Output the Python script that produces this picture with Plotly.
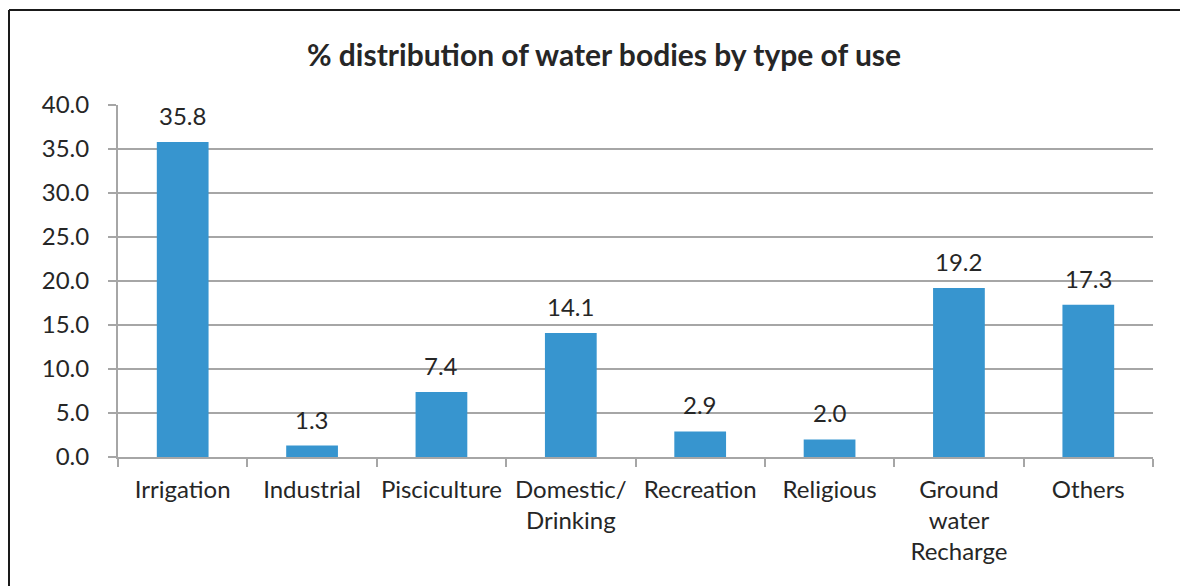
import plotly.graph_objects as go

categories = ["Irrigation", "Industrial", "Pisciculture", "Domestic/<br>Drinking",
              "Recreation", "Religious", "Ground<br>water<br>Recharge", "Others"]
values = [35.8, 1.3, 7.4, 14.1, 2.9, 2.0, 19.2, 17.3]
y_ticks = [0, 5, 10, 15, 20, 25, 30, 35, 40]
title = "% distribution of water bodies by type of use"

# page has an 8px body margin
W, H = 1180, 578
L, R, T, B = 110, 35, 97, 129
pw, ph = W - L - R, H - T - B

FONT = "Lato, Open Sans, sans-serif"
TXT = "#262626"
GRID = "#a6a6a6"

fig = go.Figure(go.Bar(
    x=categories, y=values, marker=dict(color="#3795CF", line=dict(width=0)),
    cliponaxis=False, hoverinfo="x+y",
))

for c, v in zip(categories, values):
    fig.add_annotation(x=c, y=v, text=f"{v:.1f}", showarrow=False,
                       yanchor="bottom", yshift=10,
                       font=dict(family=FONT, size=24, color=TXT))

# outer frame (left and top edges visible)
x0 = (1 - L) / pw
ytop = (H - B - 2) / ph
ybot = (-B - 10) / ph
fig.add_shape(type="line", xref="paper", yref="paper", x0=x0, x1=x0, y0=ybot, y1=ytop,
              line=dict(color="#1a1a1a", width=2))
fig.add_shape(type="line", xref="paper", yref="paper", x0=x0, x1=(W + 10 - L) / pw, y0=ytop, y1=ytop,
              line=dict(color="#1a1a1a", width=2))

fig.update_layout(
    width=W, height=H,
    margin=dict(l=L, r=R, t=T, b=B),
    paper_bgcolor="white", plot_bgcolor="white",
    bargap=0.6,
    showlegend=False,
    title=dict(text=f"<b>{title}</b>", x=(604 - 8) / W, xanchor="center", xref="container",
               y=1 - 47 / H, yanchor="middle",
               font=dict(family=FONT, size=30, color=TXT)),
    font=dict(family=FONT, color=TXT),
)
fig.update_xaxes(
    showgrid=False, showline=True, linecolor=GRID, linewidth=2,
    ticks="outside", tickson="boundaries", ticklen=8, tickcolor=GRID, tickwidth=2,
    tickfont=dict(family=FONT, size=24, color=TXT), tickangle=0,
    ticklabelstandoff=10,
)
fig.update_yaxes(
    range=[0, 40], tickvals=y_ticks, tickformat=".1f",
    showgrid=True, gridcolor=GRID, gridwidth=1.5,
    showline=True, linecolor=GRID, linewidth=2,
    ticks="outside", ticklen=8, tickcolor=GRID, tickwidth=1.5,
    tickfont=dict(family=FONT, size=24, color=TXT), zeroline=False,
    ticklabelstandoff=14,
)

fig.write_html("out.html")
